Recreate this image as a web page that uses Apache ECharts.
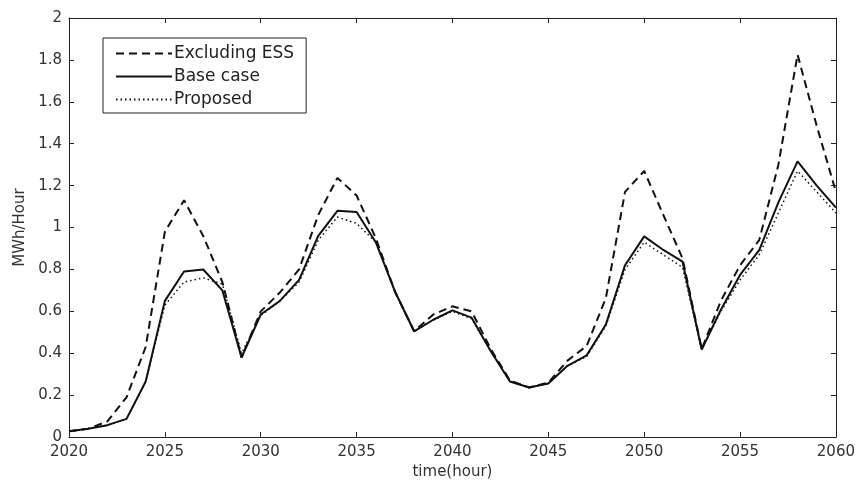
<!DOCTYPE html>
<html><head><meta charset="utf-8">
<script src="https://cdn.jsdelivr.net/npm/echarts@6/dist/echarts.min.js"></script>
<style>html,body{margin:0;padding:0;background:#fff}#c{width:858px;height:485px}</style>
</head><body><div id="c"></div>
<script>
const years = [];
for (let y = 2020; y <= 2060; y++) years.push(y);
const excludingESS = [0.028,0.04,0.075,0.19,0.43,0.98,1.13,0.96,0.74,0.38,0.60,0.69,0.80,1.06,1.237,1.153,0.95,0.695,0.505,0.585,0.624,0.60,0.42,0.27,0.237,0.26,0.365,0.435,0.663,1.17,1.27,1.06,0.853,0.42,0.65,0.82,0.94,1.30,1.825,1.485,1.17];
const baseCase = [0.028,0.04,0.057,0.087,0.265,0.65,0.79,0.80,0.70,0.38,0.585,0.65,0.75,0.96,1.08,1.074,0.93,0.695,0.505,0.56,0.605,0.57,0.41,0.265,0.237,0.256,0.34,0.39,0.537,0.82,0.958,0.893,0.837,0.418,0.608,0.774,0.892,1.12,1.316,1.20,1.095];
const proposed = [0.028,0.04,0.057,0.087,0.265,0.63,0.74,0.76,0.73,0.40,0.58,0.65,0.74,0.94,1.05,1.02,0.93,0.695,0.505,0.56,0.60,0.565,0.41,0.265,0.237,0.256,0.34,0.385,0.53,0.80,0.93,0.87,0.81,0.42,0.60,0.75,0.87,1.07,1.27,1.17,1.07];
const seriesNames = ['Excluding ESS','Base case','Proposed'];

const pairs = arr => years.map((y,i)=>[y,arr[i]]);
const font = 'DejaVu Sans';
const lblColor = '#333';
const chart = echarts.init(document.getElementById('c'));
const baseAxis = {
  min: 2020, max: 2060, interval: 5, type: 'value',
  axisLine: {show: true, onZero: false, lineStyle: {color: '#222', width: 1}},
  axisTick: {show: true, inside: true, length: 5, lineStyle: {color: '#222'}},
  splitLine: {show: false}
};
const baseY = {
  min: 0, max: 2, interval: 0.2, type: 'value',
  axisLine: {show: true, onZero: false, lineStyle: {color: '#222', width: 1}},
  axisTick: {show: true, inside: true, length: 5, lineStyle: {color: '#222'}},
  splitLine: {show: false}
};
chart.setOption({
  animation: false,
  backgroundColor: '#fff',
  grid: {left: 69, right: 21, top: 18, bottom: 45},
  legend: {
    show: true, orient: 'vertical', left: 103, top: 38,
    data: seriesNames,
    itemWidth: 56, itemHeight: 14, itemGap: 6,
    padding: [7, 12, 5, 12],
    borderColor: '#222', borderWidth: 1, backgroundColor: '#fff',
    itemStyle: {opacity: 0},
    textStyle: {fontFamily: font, fontSize: 17, color: '#222', padding: [0,0,0,-3]}
  },
  xAxis: [
    Object.assign({}, baseAxis, {position: 'bottom', name: 'time(hour)', nameLocation: 'middle', nameGap: 25,
      nameTextStyle: {fontFamily: font, fontSize: 15, color: lblColor},
      axisLabel: {fontFamily: font, fontSize: 15, color: lblColor, margin: 8, formatter: v => String(v)}}),
    Object.assign({}, baseAxis, {position: 'top', axisLabel: {show: false}})
  ],
  yAxis: [
    Object.assign({}, baseY, {position: 'left', name: 'MWh/Hour', nameLocation: 'middle', nameGap: 40,
      nameTextStyle: {fontFamily: font, fontSize: 15, color: lblColor},
      axisLabel: {fontFamily: font, fontSize: 15, color: lblColor, margin: 7,
        formatter: v => String(Math.round(v*10)/10)}}),
    Object.assign({}, baseY, {position: 'right', axisLabel: {show: false}})
  ],
  series: [
    {name: seriesNames[0], type: 'line', data: pairs(excludingESS), symbol: 'none',
     lineStyle: {color: '#111', width: 2, type: [8, 5]}, itemStyle: {color: '#111'}},
    {name: seriesNames[1], type: 'line', data: pairs(baseCase), symbol: 'none',
     lineStyle: {color: '#111', width: 2, type: 'solid'}, itemStyle: {color: '#111'}},
    {name: seriesNames[2], type: 'line', data: pairs(proposed), symbol: 'none',
     lineStyle: {color: '#111', width: 1.5, type: [1.5, 3]}, itemStyle: {color: '#111'}}
  ]
});
</script></body></html>
